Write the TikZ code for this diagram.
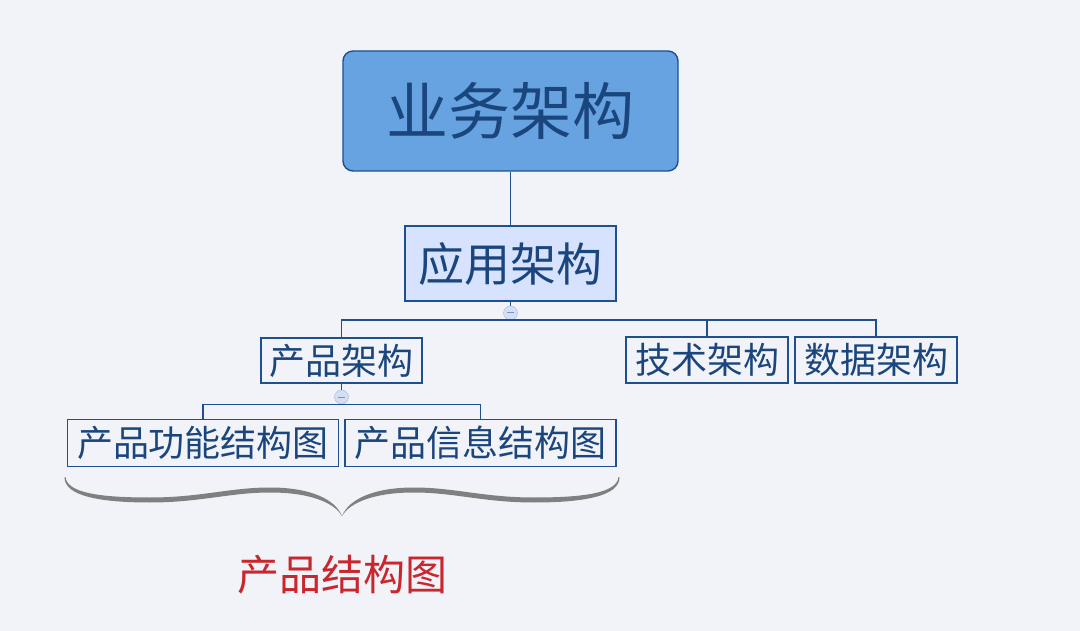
\documentclass[tikz,border=0pt]{standalone}
\usepackage{fontspec}
\newfontfamily\cjk{Noto Sans CJK SC}
\definecolor{bgcol}{RGB}{242,243,249}
\definecolor{framecol}{RGB}{30,80,142}
\definecolor{textcol}{RGB}{26,70,125}
\definecolor{rootfill}{RGB}{102,163,224}
\definecolor{appfill}{RGB}{214,226,254}
\definecolor{knobfill}{RGB}{212,223,246}
\definecolor{knobline}{RGB}{160,184,228}
\definecolor{bracegray}{RGB}{128,128,128}
\definecolor{notered}{RGB}{200,40,45}
\begin{document}
\begin{tikzpicture}[x=1pt, y=-1pt,
    box/.style={draw=framecol, line width=1.4pt, text=textcol, inner sep=0pt, font=\cjk\fontsize{36}{36}\selectfont},
    knob/.style={draw=knobline, fill=knobfill, circle, minimum size=14pt, inner sep=0pt},
    link/.style={draw=framecol, line width=1.4pt}]
    \fill[bgcol] (0,0) rectangle (1080,631);
    \useasboundingbox (0,0) rectangle (1080,631);

    \node[box, rounded corners=10pt, fill=rootfill, minimum width=335pt, minimum height=120pt, font=\cjk\fontsize{62}{62}\selectfont] (biz) at (510.5,111) {业务架构};
    \node[box, fill=appfill, minimum width=211pt, minimum height=75pt, font=\cjk\fontsize{46}{46}\selectfont] (app) at (510.5,263.5) {应用架构};

    \node[box, fill=bgcol, minimum width=161pt, minimum height=45pt] (prod) at (341.5,360.5) {产品架构};
    \node[box, fill=bgcol, minimum width=162pt, minimum height=46pt] (tech) at (707,360) {技术架构};
    \node[box, fill=bgcol, minimum width=162pt, minimum height=46pt] (data) at (876,360) {数据架构};

    \node[box, fill=bgcol, minimum width=271pt, minimum height=47pt] (func) at (203,443) {产品功能结构图};
    \node[box, fill=bgcol, minimum width=271pt, minimum height=47pt] (info) at (480.5,443) {产品信息结构图};

    \node[knob] (k1) at (510.5,313) {};
    \node[knob] (k2) at (341.5,397) {};

    \draw[link] (biz.south) -- (app.north);
    \draw[link] (app.south) -- (k1.north);
    \draw[link] (prod.north) |- (k1.south) -| (tech.north);
    \draw[link] (k1.south) -| (data.north);
    \draw[link] (prod.south) -- (k2.north);
    \draw[link] (func.north) |- (k2.south) -| (info.north);

    % minus signs in the knobs
    \foreach \k in {k1,k2}
        \draw[knobline!80!black, line width=1pt] ([xshift=-3.5pt]\k.center) -- ([xshift=3.5pt]\k.center);

    % brace under the two leaf boxes
    \foreach \s/\o in {1/0,-1/684}
        \fill[bracegray, shift={(\o,0)}, xscale=\s]
            (65.5,477) .. controls (67,493) and (100,497.5) .. (150,497.5)
            .. controls (200,497.5) and (230,487.5) .. (270,487.5)
            .. controls (310,487.5) and (335,499) .. (342,516)
            .. controls (334,502.5) and (310,492.5) .. (270,492.5)
            .. controls (230,492.5) and (200,502.5) .. (150,502.5)
            .. controls (100,502.5) and (64,496) .. (64.5,477) -- cycle;

    \node[text=notered, font=\cjk\fontsize{42}{42}\selectfont] (note) at (342.5,575) {产品结构图};
\end{tikzpicture}
\end{document}
